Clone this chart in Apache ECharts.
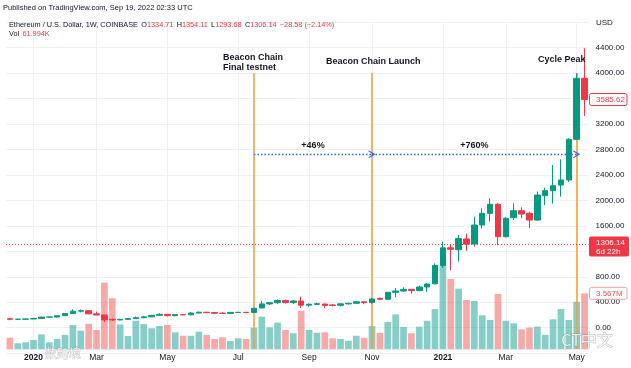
<!DOCTYPE html>
<html><head><meta charset="utf-8">
<script src="https://cdn.jsdelivr.net/npm/echarts@6/dist/echarts.min.js"></script>
<style>html,body{margin:0;padding:0;background:#fff}#c{width:631px;height:368px}</style>
</head><body><div id="c"></div>
<script>
// ---------- data ----------
const weeks = ['2019-12-16','2019-12-23','2019-12-30',
'2020-01-06','2020-01-13','2020-01-20','2020-01-27','2020-02-03','2020-02-10','2020-02-17','2020-02-24',
'2020-03-02','2020-03-09','2020-03-16','2020-03-23','2020-03-30','2020-04-06','2020-04-13','2020-04-20','2020-04-27',
'2020-05-04','2020-05-11','2020-05-18','2020-05-25','2020-06-01','2020-06-08','2020-06-15','2020-06-22','2020-06-29',
'2020-07-06','2020-07-13','2020-07-20','2020-07-27','2020-08-03','2020-08-10','2020-08-17','2020-08-24','2020-08-31',
'2020-09-07','2020-09-14','2020-09-21','2020-09-28','2020-10-05','2020-10-12','2020-10-19','2020-10-26',
'2020-11-02','2020-11-09','2020-11-16','2020-11-23','2020-11-30','2020-12-07','2020-12-14','2020-12-21','2020-12-28',
'2021-01-04','2021-01-11','2021-01-18','2021-01-25','2021-02-01','2021-02-08','2021-02-15','2021-02-22',
'2021-03-01','2021-03-08','2021-03-15','2021-03-22','2021-03-29','2021-04-05','2021-04-12','2021-04-19','2021-04-26',
'2021-05-03','2021-05-10'];
const open  = [142,133,134,137,146,167,168,189,223,260,268,218,200,131,122,132,143,158,171,195,210,189,206,203,231,244,238,228,225,240,242,239,312,374,394,428,396,420,355,368,372,358,352,375,384,408,396,462,447,556,577,603,584,640,690,979,1257,1225,1395,1315,1614,1797,1939,1430,1729,1839,1797,1692,2075,2153,2242,2321,2960,3918];
const high  = [145,136,140,149,176,172,190,229,290,287,276,253,204,147,138,150,177,186,198,227,216,214,215,245,253,250,243,248,245,249,247,311,415,400,445,444,437,490,383,394,380,370,380,393,420,418,470,475,564,622,635,605,660,700,1010,1352,1310,1460,1480,1745,1876,2033,1960,1740,1955,1892,1820,2137,2200,2556,2646,2976,3998,4390];
const low   = [117,124,126,135,141,155,165,186,219,242,213,198,90,108,120,125,140,150,169,186,178,181,195,197,224,228,220,219,222,234,228,236,303,356,373,377,372,310,328,359,308,335,334,361,375,370,376,440,446,480,565,535,574,560,680,940,906,1037,1210,1273,1560,1666,1300,1420,1692,1719,1562,1680,1928,1950,2060,2290,2950,3327];
const close = [133,134,137,146,167,168,189,223,260,268,218,200,123,122,132,143,158,171,195,210,190,206,203,231,244,238,228,225,241,242,239,305,374,394,428,396,420,355,368,377,351,352,375,384,408,396,452,447,556,577,603,584,640,687,979,1255,1232,1400,1315,1614,1797,1939,1430,1719,1839,1787,1692,2085,2153,2231,2321,2960,3918,3585.62];
const volumeM = [0.72,0.37,0.43,0.58,0.94,0.43,0.64,0.90,1.54,1.17,
1.62,1.22,4.25,3.25,1.58,0.83,1.81,1.60,1.33,1.47,
1.54,1.07,0.85,0.85,1.11,0.90,0.64,0.75,0.51,0.69,
0.64,1.37,2.07,1.39,1.69,1.22,1.01,2.44,1.22,1.04,
1.07,0.69,0.64,0.53,0.85,0.72,1.47,1.04,1.73,2.22,
1.41,1.01,1.43,1.81,2.56,5.38,4.49,3.87,3.14,3.08,
2.16,1.86,3.53,1.81,1.65,1.26,1.37,1.43,0.90,1.90,
2.56,1.86,3.03,3.567];
const tickWeeks = ['2020-01-06','2020-03-02','2020-05-04','2020-07-06','2020-09-07','2020-11-02','2021-01-04','2021-03-01','2021-05-03'];
const tickText  = ['2020','Mar','May','Jul','Sep','Nov','2021','Mar','May'];
const yearTicks = ['2020','2021'];
const priceTicks = [0,400,800,1600,2000,2400,2800,3200,3600,4000,4400];
const eventWeeks = ['2020-07-20','2020-11-02','2021-05-03'];
const eventText  = ['Beacon Chain\nFinal testnet','Beacon Chain Launch','Cycle Peak'];
const eventTop = 4000;
const gainPrice = 2725;
const gainText = ['+46%','+760%'];
const currentPrice = 1306.14;
const currentCountdown = '6d 22h';
const lastVolumeText = '3.567M';

// ---------- styles ----------
const UP = '#089981', DOWN = '#f23645';
const VOL_UP = 'rgba(38,166,154,0.55)', VOL_DOWN = 'rgba(239,83,80,0.5)';
const FONT = 'Liberation Sans, Arial, sans-serif';
const TXT = '#131722';
const GRIDC = '#eef0f4';
const CHEVRON = 'path://M0,10 L5,0 L10,10 L8.6,10 L5,3.2 L1.4,10 Z';

const chart = echarts.init(document.getElementById('c'), null, {renderer: 'canvas'});

const option = {
  animation: false,
  backgroundColor: '#ffffff',
  textStyle: {fontFamily: FONT},
  grid: [
    {left: 6, right: 42.5, top: 22.2, bottom: 14.8, outerBoundsMode: 'none'},
    {left: 6, right: 42.5, top: 22.2, bottom: 19, outerBoundsMode: 'none'}
  ],
  xAxis: [
    {type: 'category', gridIndex: 0, data: weeks, boundaryGap: true, show: false},
    {type: 'category', gridIndex: 1, data: weeks, boundaryGap: true,
     axisLine: {show: true, lineStyle: {color: '#e6e8ee'}},
     axisTick: {show: false}, splitLine: {show: false},
     axisLabel: {
       interval: (i, v) => tickWeeks.indexOf(v) >= 0,
       formatter: (v) => {
         const k = tickWeeks.indexOf(v);
         if (k < 0) return '';
         const t = tickText[k];
         return yearTicks.indexOf(t) >= 0 ? '{y|' + t + '}' : t;
       },
       margin: 4, fontSize: 8.5, color: TXT, fontFamily: FONT,
       rich: {y: {fontWeight: 'bold', fontSize: 8.5, color: TXT, fontFamily: FONT}}
     }}
  ],
  yAxis: [
    {type: 'value', gridIndex: 0, position: 'right', min: -400, max: 4800, interval: 400,
     axisLine: {show: false}, axisTick: {show: false},
     splitLine: {show: true, lineStyle: {color: GRIDC, width: 1}},
     axisLabel: {margin: 7, fontSize: 8, color: TXT, fontFamily: FONT, align: 'left',
       formatter: (v) => priceTicks.indexOf(v) >= 0 ? v.toFixed(2) : ''}},
    {type: 'value', gridIndex: 1, min: 0, max: 20.95, show: false, splitLine: {show: false}}
  ],
  series: [
    {
      name: 'Volume', type: 'bar', xAxisIndex: 1, yAxisIndex: 1, z: 1,
      barCategoryGap: '15%', silent: true,
      data: volumeM.map((v, i) => ({value: v, itemStyle: {color: close[i] >= open[i] ? VOL_UP : VOL_DOWN}})),
      markLine: {silent: true, z: 0, symbol: 'none', animation: false,
        label: {show: false},
        lineStyle: {color: GRIDC, type: 'solid', width: 1},
        data: tickWeeks.map(w => ({xAxis: w}))}
    },
    {
      name: 'events', type: 'line', xAxisIndex: 0, yAxisIndex: 0, z: 2, data: [], silent: true,
      markLine: {silent: true, z: 2, symbol: 'none', animation: false,
        label: {show: false},
        lineStyle: {color: '#f5a13b', type: 'solid', width: 1.6},
        data: eventWeeks.map(w => [{coord: [w, eventTop]}, {coord: [w, -335]}])}
    },
    {
      name: 'ETHUSD', type: 'candlestick', xAxisIndex: 0, yAxisIndex: 0, z: 3,
      barWidth: 6, silent: true,
      data: weeks.map((w, i) => [open[i], close[i], low[i], high[i]]),
      itemStyle: {color: UP, color0: DOWN, borderColor: UP, borderColor0: DOWN, borderWidth: 1},
      markLine: {silent: true, z: 5, symbol: 'none', animation: false,
        data: [
          [{coord: [eventWeeks[0], gainPrice], symbol: 'none',
            lineStyle: {color: '#2962ff', type: [1.5, 2], width: 1.3},
            label: {show: true, position: 'middle', formatter: gainText[0], distance: 4,
                    color: TXT, fontWeight: 'bold', fontSize: 9, fontFamily: FONT}},
           {coord: [eventWeeks[1], gainPrice], symbol: CHEVRON, symbolSize: [8, 7]}],
          [{coord: [eventWeeks[1], gainPrice], symbol: 'none',
            lineStyle: {color: '#2962ff', type: [1.5, 2], width: 1.3},
            label: {show: true, position: 'middle', formatter: gainText[1], distance: 4,
                    color: TXT, fontWeight: 'bold', fontSize: 9, fontFamily: FONT}},
           {coord: [eventWeeks[2], gainPrice], symbol: CHEVRON, symbolSize: [8, 7]}],
          {yAxis: currentPrice, symbol: 'none',
           lineStyle: {color: '#f23645', type: [1, 2], width: 1},
           label: {show: false}}
        ]},
      markPoint: {silent: true, symbol: 'circle', symbolSize: 1, animation: false,
        itemStyle: {color: 'rgba(0,0,0,0)'},
        label: {show: true, position: 'inside', align: 'left', verticalAlign: 'middle',
                color: TXT, fontWeight: 'bold', fontSize: 9, lineHeight: 10, fontFamily: FONT},
        data: [
          {coord: [eventWeeks[0], eventTop], label: {formatter: eventText[0], offset: [-31, -11]}},
          {coord: [eventWeeks[1], eventTop], label: {formatter: eventText[1], offset: [-46, -12]}},
          {coord: [eventWeeks[2], eventTop], label: {formatter: eventText[2], offset: [-38.6, -14]}}
        ]}
    }
  ]
};
chart.setOption(option);

// ---------- price-scale tags and header, placed through the axes ----------
const lastClose = close[close.length - 1];
const lastVol = volumeM[volumeM.length - 1];
const yLast = chart.convertToPixel({yAxisIndex: 0}, lastClose);
const yCur = chart.convertToPixel({yAxisIndex: 0}, currentPrice);
const yVol = chart.convertToPixel({yAxisIndex: 1}, lastVol);
const f8 = '8px ' + FONT;
const fh = '7.5px ' + FONT;
const fh2 = '7.3px ' + FONT;

chart.setOption({
  graphic: [
    {type: 'text', z: 50, style: {x: 3, y: 8, text: 'Published on TradingView.com, Sep 19, 2022 02:33 UTC',
      font: fh, fill: TXT, verticalAlign: 'middle'}},
    {type: 'text', z: 50, style: {x: 9, y: 25,
      text: '{d|Ethereum / U.S. Dollar, 1W, COINBASE} {d|O}{r|1334.71} {d|H}{r|1354.11} {d|L}{r|1293.68} {d|C}{r|1306.14} {r|\u221228.58 (\u22122.14%)}',
      verticalAlign: 'middle',
      rich: {d: {font: fh2, fill: TXT}, r: {font: fh2, fill: '#f23645'}}}},
    {type: 'text', z: 50, style: {x: 9, y: 34, text: '{d|Vol} {r|61.994K}', verticalAlign: 'middle',
      rich: {d: {font: fh2, fill: TXT}, r: {font: fh2, fill: '#f23645'}}}},
    {type: 'text', z: 50, style: {x: 596, y: 23, text: 'USD', font: f8, fill: TXT, verticalAlign: 'middle'}},
    // last close tag
    {type: 'rect', z: 50, shape: {x: 589.5, y: yLast - 6, width: 37.5, height: 12, r: 2},
      style: {fill: '#ffffff', stroke: '#f23645', lineWidth: 1}},
    {type: 'text', z: 51, style: {x: 596, y: yLast, text: lastClose.toFixed(2), font: f8, fill: '#f23645', verticalAlign: 'middle'}},
    // current price tag
    {type: 'rect', z: 50, shape: {x: 589, y: yCur - 8, width: 40, height: 20, r: 2},
      style: {fill: '#f23645'}},
    {type: 'text', z: 51, style: {x: 596, y: yCur - 1.5, text: currentPrice.toFixed(2), font: f8, fill: '#ffffff', verticalAlign: 'middle'}},
    {type: 'text', z: 51, style: {x: 596, y: yCur + 7.5, text: currentCountdown, font: f8, fill: '#ffffff', verticalAlign: 'middle'}},
    // last volume tag
    {type: 'rect', z: 50, shape: {x: 589.5, y: yVol - 6, width: 37.5, height: 12, r: 2},
      style: {fill: '#ffffff', stroke: '#f5a0a0', lineWidth: 1}},
    {type: 'text', z: 51, style: {x: 596, y: yVol, text: lastVolumeText, font: f8, fill: '#ef5350', verticalAlign: 'middle'}},
    // watermarks
    {type: 'text', z: 60, style: {x: 587, y: 340, text: 'CT中文', font: '16px "Noto Sans CJK SC"',
      fill: 'rgba(255,255,255,0.85)', stroke: 'rgba(110,110,110,0.55)', lineWidth: 0.8, align: 'center', verticalAlign: 'middle'}},
    {type: 'text', z: 60, style: {x: 63, y: 353, text: '数跨境', font: '12px "Noto Sans CJK SC"',
      fill: 'rgba(255,255,255,0.85)', stroke: 'rgba(110,110,110,0.5)', lineWidth: 0.7, align: 'center', verticalAlign: 'middle'}}
  ]
});
</script>
</body></html>
